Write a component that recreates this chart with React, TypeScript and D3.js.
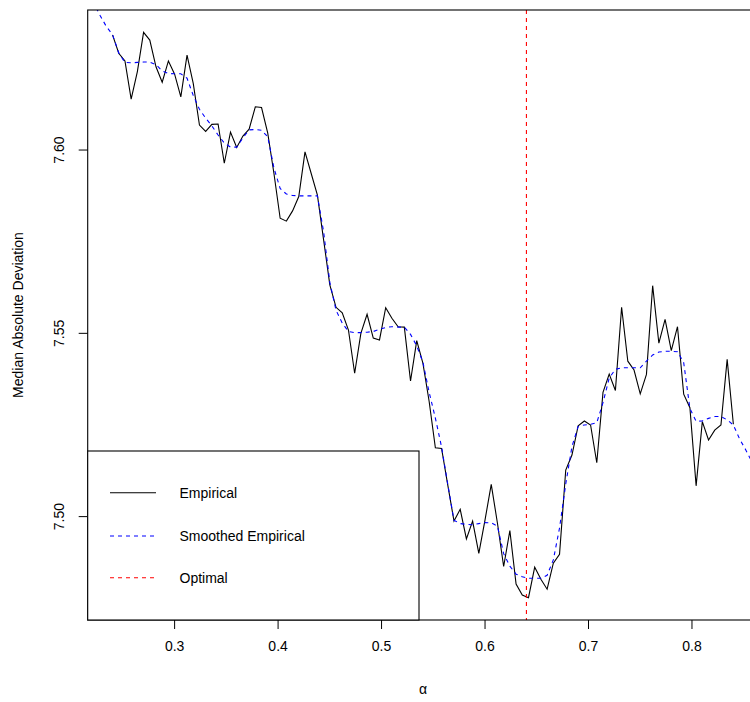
import * as d3 from 'd3'

// alpha grid of the empirical curve
const alphaGrid = [
  0.240, 0.246, 0.252, 0.258, 0.264, 0.270, 0.276, 0.282, 0.288, 0.294,
  0.300, 0.306, 0.312, 0.318, 0.324, 0.330, 0.336, 0.342, 0.348, 0.354,
  0.360, 0.366, 0.372, 0.378, 0.384, 0.390, 0.396, 0.402, 0.408, 0.414,
  0.420, 0.426, 0.432, 0.438, 0.444, 0.450, 0.456, 0.462, 0.468, 0.474,
  0.480, 0.486, 0.492, 0.498, 0.504, 0.510, 0.516, 0.522, 0.528, 0.534,
  0.540, 0.546, 0.552, 0.558, 0.564, 0.570, 0.576, 0.582, 0.588, 0.594,
  0.600, 0.606, 0.612, 0.618, 0.624, 0.630, 0.636, 0.642, 0.648, 0.654,
  0.660, 0.666, 0.672, 0.678, 0.684, 0.690, 0.696, 0.702, 0.708, 0.714,
  0.720, 0.726, 0.732, 0.738, 0.744, 0.750, 0.756, 0.762, 0.768, 0.774,
  0.780, 0.786, 0.792, 0.798, 0.804, 0.810, 0.816, 0.822, 0.828, 0.834,
  0.840
]

const empiricalMAD = [
  7.6314, 7.6264, 7.6243, 7.6139, 7.6214, 7.6321, 7.6300, 7.6227, 7.6185, 7.6243,
  7.6207, 7.6145, 7.6259, 7.6182, 7.6068, 7.6051, 7.6070, 7.6071, 7.5964, 7.6049,
  7.6007, 7.6038, 7.6057, 7.6118, 7.6116, 7.6046, 7.5936, 7.5814, 7.5806, 7.5834,
  7.5873, 7.5995, 7.5936, 7.5877, 7.5755, 7.5632, 7.5571, 7.5556, 7.5509, 7.5391,
  7.5500, 7.5552, 7.5487, 7.5482, 7.5570, 7.5541, 7.5518, 7.5517, 7.5370, 7.5480,
  7.5418, 7.5314, 7.5188, 7.5186, 7.5086, 7.4988, 7.5020, 7.4939, 7.4988, 7.4900,
  7.4991, 7.5088, 7.4982, 7.4864, 7.4962, 7.4816, 7.4786, 7.4779, 7.4862, 7.4829,
  7.4802, 7.4873, 7.4897, 7.5127, 7.5168, 7.5248, 7.5261, 7.5250, 7.5147, 7.5339,
  7.5389, 7.5344, 7.5571, 7.5424, 7.5400, 7.5335, 7.5388, 7.5630, 7.5473, 7.5538,
  7.5453, 7.5518, 7.5334, 7.5297, 7.5084, 7.5259, 7.5209, 7.5236, 7.5250, 7.5429,
  7.5252
]

// smoothed curve is evaluated on a slightly wider grid
const smoothAlpha = [
  0.216, 0.222, 0.228, 0.234,
  0.240, 0.246, 0.252, 0.258, 0.264, 0.270, 0.276, 0.282, 0.288, 0.294,
  0.300, 0.306, 0.312, 0.318, 0.324, 0.330, 0.336, 0.342, 0.348, 0.354,
  0.360, 0.366, 0.372, 0.378, 0.384, 0.390, 0.396, 0.402, 0.408, 0.414,
  0.420, 0.426, 0.432, 0.438, 0.444, 0.450, 0.456, 0.462, 0.468, 0.474,
  0.480, 0.486, 0.492, 0.498, 0.504, 0.510, 0.516, 0.522, 0.528, 0.534,
  0.540, 0.546, 0.552, 0.558, 0.564, 0.570, 0.576, 0.582, 0.588, 0.594,
  0.600, 0.606, 0.612, 0.618, 0.624, 0.630, 0.636, 0.642, 0.648, 0.654,
  0.660, 0.666, 0.672, 0.678, 0.684, 0.690, 0.696, 0.702, 0.708, 0.714,
  0.720, 0.726, 0.732, 0.738, 0.744, 0.750, 0.756, 0.762, 0.768, 0.774,
  0.780, 0.786, 0.792, 0.798, 0.804, 0.810, 0.816, 0.822, 0.828, 0.834,
  0.840, 0.846, 0.852, 0.858, 0.864
]

const smoothedMAD = [
  7.6425, 7.6400, 7.6367, 7.6337,
  7.6315, 7.6265, 7.6239, 7.6238, 7.6239, 7.6240, 7.6240, 7.6233, 7.6216, 7.6209,
  7.6208, 7.6208, 7.6196, 7.6149, 7.6111, 7.6087, 7.6066, 7.6041, 7.6019, 7.6008,
  7.6008, 7.6033, 7.6055, 7.6056, 7.6054, 7.6036, 7.5951, 7.5895, 7.5880, 7.5876,
  7.5875, 7.5875, 7.5875, 7.5875, 7.5777, 7.5639, 7.5563, 7.5528, 7.5505, 7.5502,
  7.5502, 7.5503, 7.5505, 7.5511, 7.5516, 7.5518, 7.5517, 7.5517, 7.5497, 7.5466,
  7.5421, 7.5339, 7.5269, 7.5190, 7.5088, 7.4990, 7.4981, 7.4979, 7.4978, 7.4981,
  7.4984, 7.4983, 7.4974, 7.4899, 7.4865, 7.4843, 7.4836, 7.4832, 7.4832, 7.4832,
  7.4840, 7.4882, 7.4969, 7.5089, 7.5191, 7.5246, 7.5250, 7.5252, 7.5256, 7.5311,
  7.5378, 7.5402, 7.5406, 7.5406, 7.5406, 7.5406, 7.5424, 7.5441, 7.5449, 7.5451,
  7.5451, 7.5450, 7.5420, 7.5295, 7.5260, 7.5261, 7.5268, 7.5273, 7.5273, 7.5264,
  7.5250, 7.5212, 7.5182, 7.5149, 7.5114
]

const optimalAlpha = 0.64

const xTicks = [0.3, 0.4, 0.5, 0.6, 0.7, 0.8]
const yTicks = [7.50, 7.55, 7.60]
const legendLabels = ['Empirical', 'Smoothed Empirical', 'Optimal']
const legendColors = ['#000000', '#0000FF', '#FF0000']

const W = 750
const H = 702
const plot = { left: 87.7, top: 10, right: 758.2, bottom: 620 }
const font = '"Liberation Sans", Arial, Helvetica, sans-serif'

export default function App() {
  const x = d3.scaleLinear().domain([0.216, 0.864]).range([plot.left, plot.right])
  const y = d3.scaleLinear().domain([7.4718, 7.6382]).range([plot.bottom, plot.top])

  const line = d3.line<[number, number]>()
    .x(d => x(d[0]))
    .y(d => y(d[1]))

  const empiricalPath = line(alphaGrid.map((a, i) => [a, empiricalMAD[i]]))
  const smoothPath = line(smoothAlpha.map((a, i) => [a, smoothedMAD[i]]))

  // legend box sits in the lower left corner of the plot
  const legend = { x: plot.left, y: 451, w: 419 - plot.left, h: plot.bottom - 451 }
  const legendRows = [492.7, 536, 577.7]

  return (
    <svg
      width={W}
      height={H}
      style={{ position: 'absolute', left: 0, top: 0, background: '#fff' }}
      fontFamily={font}
    >
      <defs>
        <clipPath id="plot-clip">
          <rect x={plot.left} y={plot.top} width={plot.right - plot.left} height={plot.bottom - plot.top} />
        </clipPath>
      </defs>

      <g clipPath="url(#plot-clip)">
        <path d={empiricalPath ?? ''} fill="none" stroke="#000" strokeWidth={1.1} />
        <path d={smoothPath ?? ''} fill="none" stroke="#0000FF" strokeWidth={1.1} strokeDasharray="4,4" />
        <line
          x1={x(optimalAlpha)} x2={x(optimalAlpha)}
          y1={plot.top} y2={plot.bottom}
          stroke="#FF0000" strokeWidth={1.1} strokeDasharray="4,4"
        />
      </g>

      {/* box */}
      <rect
        x={plot.left} y={plot.top}
        width={plot.right - plot.left} height={plot.bottom - plot.top}
        fill="none" stroke="#000" strokeWidth={1.1}
      />

      {/* x axis */}
      {xTicks.map(t => (
        <g key={t}>
          <line x1={x(t)} x2={x(t)} y1={plot.bottom} y2={plot.bottom + 9} stroke="#000" />
          <text x={x(t)} y={651} textAnchor="middle" fontSize={14}>{t.toFixed(1)}</text>
        </g>
      ))}
      <text x={(plot.left + plot.right) / 2} y={694} textAnchor="middle" fontSize={14}>α</text>

      {/* y axis */}
      {yTicks.map(t => (
        <g key={t}>
          <line x1={plot.left - 9} x2={plot.left} y1={y(t)} y2={y(t)} stroke="#000" />
          <text transform={`translate(64,${y(t)}) rotate(-90)`} textAnchor="middle" fontSize={14}>
            {t.toFixed(2)}
          </text>
        </g>
      ))}
      <text
        transform={`translate(23,${(plot.top + plot.bottom) / 2}) rotate(-90)`}
        textAnchor="middle" fontSize={14}
      >
        Median Absolute Deviation
      </text>

      {/* legend */}
      <rect x={legend.x} y={legend.y} width={legend.w} height={legend.h} fill="#fff" stroke="#000" strokeWidth={1.1} />
      {legendLabels.map((lab, i) => (
        <g key={lab}>
          <line
            x1={110} x2={156} y1={legendRows[i]} y2={legendRows[i]}
            stroke={legendColors[i]} strokeWidth={1.1}
            strokeDasharray={i === 0 ? undefined : '4,4'}
          />
          <text x={179.5} y={legendRows[i]} dominantBaseline="central" fontSize={14}>{lab}</text>
        </g>
      ))}
    </svg>
  )
}
